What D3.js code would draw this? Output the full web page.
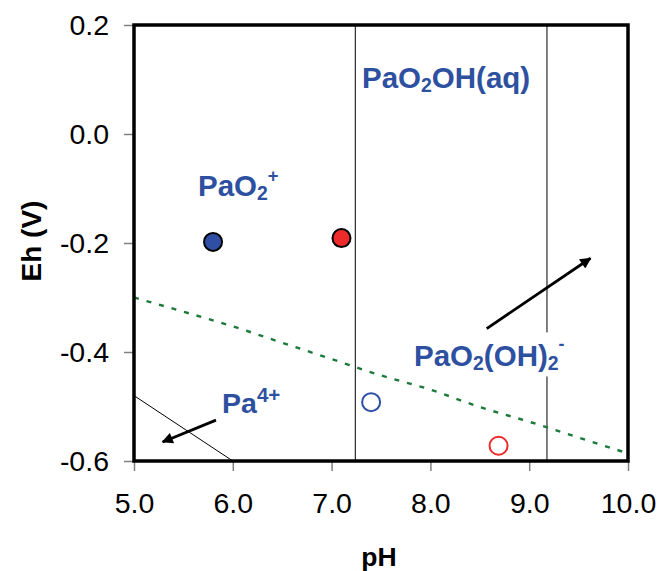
<!DOCTYPE html>
<html>
<head>
<meta charset="utf-8">
<script src="https://cdn.jsdelivr.net/npm/d3@7/dist/d3.min.js"></script>
<style>
  html, body { margin: 0; padding: 0; background: #fff; }
  svg { display: block; font-family: "Liberation Sans", Arial, sans-serif; }
</style>
</head>
<body>
<svg id="chart" width="657" height="571"></svg>
<script>
// Axis ticks
const xTicks = [5.0, 6.0, 7.0, 8.0, 9.0, 10.0];
const yTicks = [-0.6, -0.4, -0.2, 0.0, 0.2];

// Stability boundary (green dashed): pH vs Eh
const boundaryPH = [5.0, 5.5, 6.0, 6.5, 7.0, 7.5, 8.0, 8.5, 9.0, 9.5, 10.0];
const boundaryEh = [-0.300, -0.326, -0.353, -0.383, -0.413, -0.443, -0.469, -0.501, -0.528, -0.557, -0.586];

// Species field borders (vertical lines at pH)
const borderPH = [7.24, 9.18];

// Pa4+ border (thin diagonal)
const pa4PH = [5.0, 6.0];
const pa4Eh = [-0.48, -0.60];

// Measured points
const pointPH = [5.8, 7.1, 7.4, 8.69];
const pointEh = [-0.198, -0.191, -0.492, -0.572];
const pointColor = ["#2E4FA3", "#EE2A2A", "#2E4FA3", "#EE2A2A"];
const pointFilled = [true, true, false, false];

// Arrows: tail -> head
const arrowFromPH = [8.57, 5.83];
const arrowFromEh = [-0.357, -0.525];
const arrowToPH = [9.62, 5.29];
const arrowToEh = [-0.228, -0.565];

const svg = d3.select("#chart");
const mLeft = 134, mRight = 628, mTop = 25, mBottom = 461;
const x = d3.scaleLinear().domain([5, 10]).range([mLeft, mRight]);
const y = d3.scaleLinear().domain([-0.6, 0.2]).range([mBottom, mTop]);

const labelBlue = "#2E50A0";

// Vertical borders
svg.selectAll("line.border").data(borderPH).join("line")
  .attr("class", "border")
  .attr("x1", d => x(d)).attr("x2", d => x(d))
  .attr("y1", y(0.2)).attr("y2", y(-0.6))
  .attr("stroke", "#000").attr("stroke-width", 1);

// Pa4+ border
svg.append("line")
  .attr("x1", x(pa4PH[0])).attr("y1", y(pa4Eh[0]))
  .attr("x2", x(pa4PH[1])).attr("y2", y(pa4Eh[1]))
  .attr("stroke", "#000").attr("stroke-width", 1);

// Green dashed boundary
const line = d3.line().x(d => x(d[0])).y(d => y(d[1])).curve(d3.curveMonotoneX);
svg.append("path")
  .datum(boundaryPH.map((p, i) => [p, boundaryEh[i]]))
  .attr("d", line)
  .attr("fill", "none")
  .attr("stroke", "#1B7A3A")
  .attr("stroke-width", 2.4)
  .attr("stroke-dasharray", "5,8");

// Species labels; parts may be subscript or superscript with their own scale/shift
function label(px, py, parts, size) {
  const g = svg.append("g");
  const t = g.append("text")
    .attr("x", px).attr("y", py)
    .attr("fill", labelBlue)
    .attr("font-weight", "bold")
    .attr("font-size", size);
  let shift = 0;
  parts.forEach(p => {
    const s = t.append("tspan").text(p.t);
    let target = 0;
    if (p.sub) { s.attr("font-size", size * 0.66); target = size * 0.15; }
    if (p.sup) { s.attr("font-size", size * p.sup[0]); target = -size * p.sup[1]; }
    s.attr("dy", target - shift);
    shift = target;
  });
  return g;
}
function backing(g) {
  const b = g.node().getBBox();
  g.insert("rect", "text")
    .attr("x", b.x - 4).attr("y", b.y - 2)
    .attr("width", b.width + 8).attr("height", b.height + 4)
    .attr("fill", "#fff");
}

const fs = 29.5;
backing(label(362, 88, [
  {t: "PaO"}, {t: "2", sub: true}, {t: "OH(aq)"}
], fs));

label(198, 196, [
  {t: "PaO"}, {t: "2", sub: true}, {t: "+", sup: [0.62, 0.47]}
], fs);

// Points
svg.selectAll("circle.pt").data(pointPH).join("circle")
  .attr("class", "pt")
  .attr("cx", d => x(d))
  .attr("cy", (d, i) => y(pointEh[i]))
  .attr("r", 9)
  .attr("fill", (d, i) => pointFilled[i] ? pointColor[i] : "none")
  .attr("stroke", (d, i) => pointFilled[i] ? "#000" : pointColor[i])
  .attr("stroke-width", 2);

// Arrows
const defs = svg.append("defs");
defs.append("marker")
  .attr("id", "head")
  .attr("viewBox", "0 0 10 10")
  .attr("refX", 9).attr("refY", 5)
  .attr("markerWidth", 4.5).attr("markerHeight", 4)
  .attr("markerUnits", "strokeWidth")
  .attr("orient", "auto")
  .append("path").attr("d", "M0,0 L10,5 L0,10 Z").attr("fill", "#000");

arrowFromPH.forEach((p, i) => {
  svg.append("line")
    .attr("x1", x(p)).attr("y1", y(arrowFromEh[i]))
    .attr("x2", x(arrowToPH[i])).attr("y2", y(arrowToEh[i]))
    .attr("stroke", "#000").attr("stroke-width", 2.8)
    .attr("marker-end", "url(#head)");
});

backing(label(414, 366, [
  {t: "PaO"}, {t: "2", sub: true}, {t: "(OH)"},
  {t: "2", sub: true}, {t: "-", sup: [0.6, 0.53]}
], fs));

label(222, 413, [
  {t: "Pa"}, {t: "4+", sup: [0.72, 0.38]}
], 28.5);

// Axes
const xAxis = d3.axisBottom(x).tickValues(xTicks).tickFormat(d => d.toFixed(1))
  .tickSize(10).tickPadding(22);
const yAxis = d3.axisLeft(y).tickValues(yTicks).tickFormat(d => d.toFixed(1))
  .tickSize(10).tickPadding(15);

const gx = svg.append("g").attr("transform", `translate(0,${mBottom})`).call(xAxis);
const gy = svg.append("g").attr("transform", `translate(${mLeft},0)`).call(yAxis);
[gx, gy].forEach(g => {
  g.select(".domain").remove();
  g.selectAll(".tick line").attr("stroke", "#808080").attr("stroke-width", 1.5);
  g.selectAll(".tick text")
    .attr("font-family", "Liberation Sans, Arial, sans-serif")
    .attr("font-size", 28.5).attr("fill", "#000");
});

// Frame
svg.append("rect")
  .attr("x", mLeft).attr("y", mTop)
  .attr("width", mRight - mLeft).attr("height", mBottom - mTop)
  .attr("fill", "none").attr("stroke", "#000").attr("stroke-width", 3.5);

// Axis titles
svg.append("text")
  .attr("x", 379).attr("y", 566)
  .attr("text-anchor", "middle")
  .attr("font-weight", "bold").attr("font-size", 26.5)
  .text("pH");
svg.append("text")
  .attr("transform", "translate(41,241) rotate(-90)")
  .attr("text-anchor", "middle")
  .attr("font-weight", "bold").attr("font-size", 28)
  .text("Eh (V)");
</script>
</body>
</html>
